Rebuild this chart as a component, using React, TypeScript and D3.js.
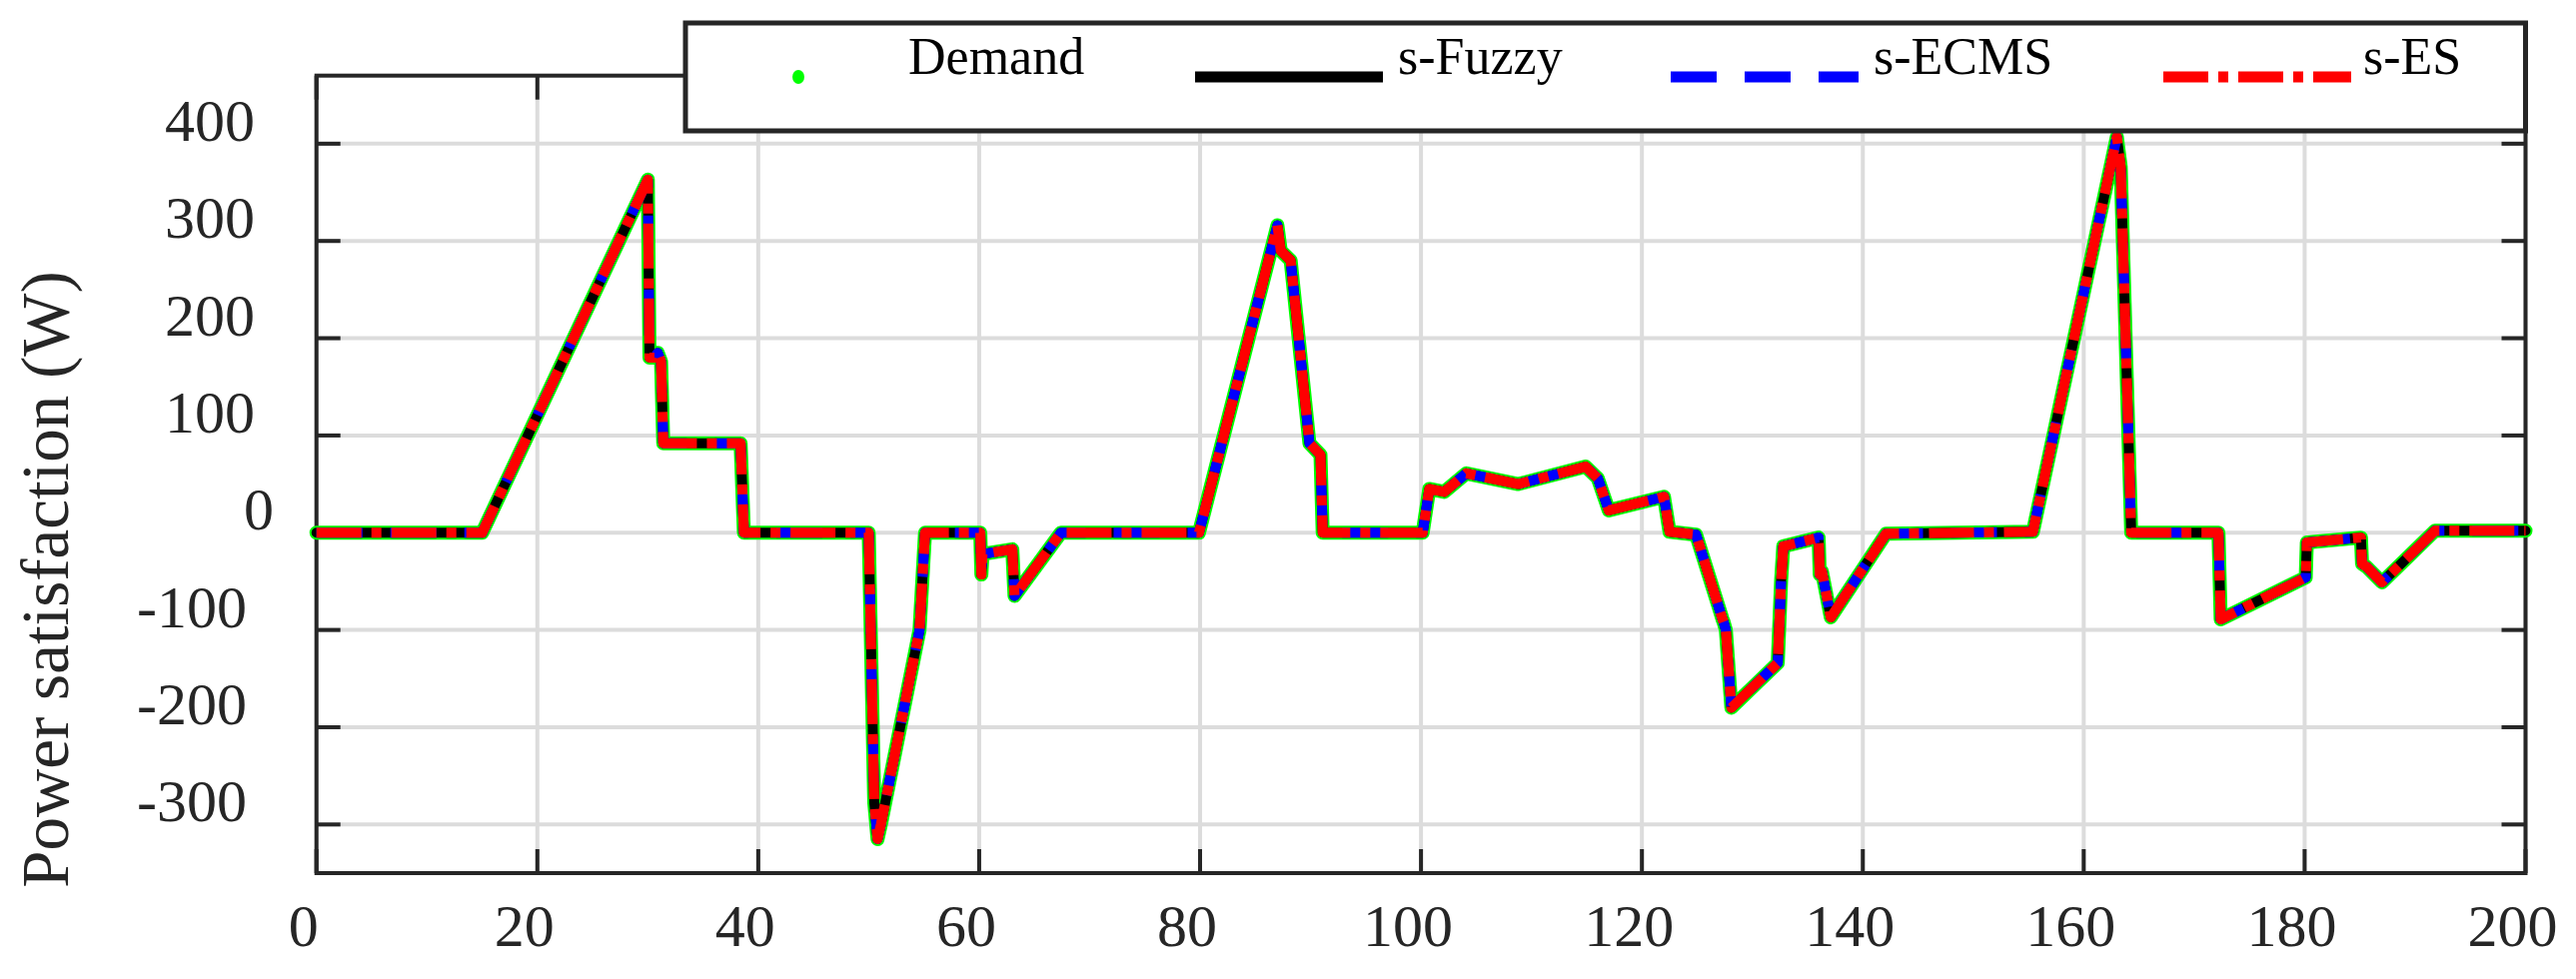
import React from "react";
import * as d3 from "d3";

// ---- data ----
const timeS = [0, 15, 30, 30.15, 30.6, 30.9, 31.2, 31.4, 38.4, 38.7, 50, 50.5, 50.8, 51.1, 54.6, 55.1, 60.1, 60.2, 60.3, 63, 63.2, 67.4, 79.9, 87, 87.3, 88.2, 89.9, 90.9, 91.1, 100.15, 100.75, 102.1, 104.1, 108.8, 114.9, 116, 117, 122, 122.5, 124.9, 127.3, 127.4, 127.6, 128.1, 132.3, 132.6, 132.8, 136, 136.1, 136.3, 137.1, 142.1, 155.4, 163, 163.35, 164.3, 172.2, 172.4, 180.1, 180.2, 185.1, 185.2, 185.6, 187, 191.8, 200];
const demandW = [0, 0, 363, 180, 180, 185, 176, 92, 92, 0, 0, -277, -315, -300, -100, 0, 0, -43, -22, -17, -65, 0, 0, 316, 290, 280, 92, 80, 0, 0, 45, 42, 61, 50, 68, 56, 23, 37, 1, -2, -89, -92, -100, -180, -134, -50, -14, -5, -43, -40, -87, -1, 1, 407, 376, 0, 0, -89, -46, -10, -5, -32, -35, -51, 2, 2];
const sFuzzyW = [0, 0, 363, 180, 180, 185, 176, 92, 92, 0, 0, -277, -315, -300, -100, 0, 0, -43, -22, -17, -65, 0, 0, 316, 290, 280, 92, 80, 0, 0, 45, 42, 61, 50, 68, 56, 23, 37, 1, -2, -89, -92, -100, -180, -134, -50, -14, -5, -43, -40, -87, -1, 1, 407, 376, 0, 0, -89, -46, -10, -5, -32, -35, -51, 2, 2];
const sEcmsW = [0, 0, 363, 180, 180, 185, 176, 92, 92, 0, 0, -277, -315, -300, -100, 0, 0, -43, -22, -17, -65, 0, 0, 316, 290, 280, 92, 80, 0, 0, 45, 42, 61, 50, 68, 56, 23, 37, 1, -2, -89, -92, -100, -180, -134, -50, -14, -5, -43, -40, -87, -1, 1, 407, 376, 0, 0, -89, -46, -10, -5, -32, -35, -51, 2, 2];
const sEsW = [0, 0, 363, 180, 180, 185, 176, 92, 92, 0, 0, -277, -315, -300, -100, 0, 0, -43, -22, -17, -65, 0, 0, 316, 290, 280, 92, 80, 0, 0, 45, 42, 61, 50, 68, 56, 23, 37, 1, -2, -89, -92, -100, -180, -134, -50, -14, -5, -43, -40, -87, -1, 1, 407, 376, 0, 0, -89, -46, -10, -5, -32, -35, -51, 2, 2];

const xTicks = [0, 20, 40, 60, 80, 100, 120, 140, 160, 180, 200];
const yTicks = [-300, -200, -100, 0, 100, 200, 300, 400];
const legendLabels = ["Demand", "s-Fuzzy", "s-ECMS", "s-ES"];
const yAxisLabel = "Power satisfaction (W)";

// ---- layout / style ----
const W = 2578, H = 980;
const L = 316.7, R = 2527.5, T = 75.7, B = 874;
const FONT = "'Liberation Serif', 'Times New Roman', serif";
const AX = "#262626";
const GRID = "#dcdcdc";
const LW = 10;
const BLUE_DASH = "46 28";
const RED_DASH = "45 10 10 10";
// legend item x positions (symbol start)
const legendItemX = [705, 1196, 1672, 2165];
const legendSymW = 188;

export default function App() {
  const x = d3.scaleLinear().domain([0, 200]).range([L, R]);
  const y = d3.scaleLinear().domain([-350, 470]).range([B, T]);
  const mk = (vals: number[]) =>
    d3.line<number>().x((_, i) => x(timeS[i])).y((v) => y(v))(vals) || "";

  const tickLen = 24;
  const yLabelRight = (v: number) => (v > 0 ? 255 : v === 0 ? 274 : 247);

  return (
    <svg
      width={W}
      height={H}
      style={{ position: "absolute", left: 0, top: 0, background: "#fff" }}
      fontFamily={FONT}
    >
      <rect x={0} y={0} width={W} height={H} fill="#fff" />
      {/* grid */}
      {xTicks.map((t) => (
        <line key={"gx" + t} x1={x(t)} x2={x(t)} y1={T} y2={B} stroke={GRID} strokeWidth={4} />
      ))}
      {yTicks.map((t) => (
        <line key={"gy" + t} x1={L} x2={R} y1={y(t)} y2={y(t)} stroke={GRID} strokeWidth={4} />
      ))}
      {/* ticks */}
      {xTicks.map((t) => (
        <g key={"tx" + t}>
          <line x1={x(t)} x2={x(t)} y1={B} y2={B - tickLen} stroke={AX} strokeWidth={4} />
          <line x1={x(t)} x2={x(t)} y1={T} y2={T + tickLen} stroke={AX} strokeWidth={4} />
        </g>
      ))}
      {yTicks.map((t) => (
        <g key={"ty" + t}>
          <line x1={L} x2={L + tickLen} y1={y(t)} y2={y(t)} stroke={AX} strokeWidth={4} />
          <line x1={R} x2={R - tickLen} y1={y(t)} y2={y(t)} stroke={AX} strokeWidth={4} />
        </g>
      ))}
      {/* box */}
      <rect x={L} y={T} width={R - L} height={B - T} fill="none" stroke={AX} strokeWidth={4} />

      {/* tick labels */}
      {xTicks.map((t) => (
        <text key={"lx" + t} x={x(t) - 13} y={947} textAnchor="middle" fontSize={60} fill={AX}>
          {t}
        </text>
      ))}
      {yTicks.map((t) => (
        <text key={"ly" + t} x={yLabelRight(t)} y={y(t) - 3} textAnchor="end" fontSize={60} fill={AX}>
          {t}
        </text>
      ))}
      <text
        transform={`translate(68,580) rotate(-90)`}
        textAnchor="middle"
        fontSize={67}
        fill={AX}
      >
        {yAxisLabel}
      </text>

      {/* data */}
      <path d={mk(demandW)} fill="none" stroke="#00ff00" strokeWidth={14} strokeLinejoin="round" strokeLinecap="round" />
      <path d={mk(sFuzzyW)} fill="none" stroke="#000000" strokeWidth={LW} strokeLinejoin="round" strokeLinecap="round" />
      <path d={mk(sEcmsW)} fill="none" stroke="#0000ff" strokeWidth={LW} strokeLinejoin="round" strokeDasharray={BLUE_DASH} />
      <path d={mk(sEsW)} fill="none" stroke="#ff0000" strokeWidth={LW} strokeLinejoin="round" strokeDasharray={RED_DASH} />

      {/* legend */}
      <rect x={686} y={23} width={R - 686} height={108} fill="#fff" stroke={AX} strokeWidth={5} />
      <ellipse cx={legendItemX[0] + legendSymW / 2} cy={77} rx={6} ry={7} fill="#00ff00" />
      <line x1={legendItemX[1]} x2={legendItemX[1] + legendSymW} y1={77} y2={77} stroke="#000" strokeWidth={11} />
      <line x1={legendItemX[2]} x2={legendItemX[2] + legendSymW} y1={77} y2={77} stroke="#0000ff" strokeWidth={11} strokeDasharray={BLUE_DASH} />
      <line x1={legendItemX[3]} x2={legendItemX[3] + legendSymW} y1={77} y2={77} stroke="#ff0000" strokeWidth={11} strokeDasharray={RED_DASH} />
      {legendLabels.map((s, i) => (
        <text key={s} x={legendItemX[i] + legendSymW + (i === 0 ? 16 : i === 3 ? 12 : 15)} y={74} fontSize={52} fill="#000">
          {s}
        </text>
      ))}
    </svg>
  );
}
